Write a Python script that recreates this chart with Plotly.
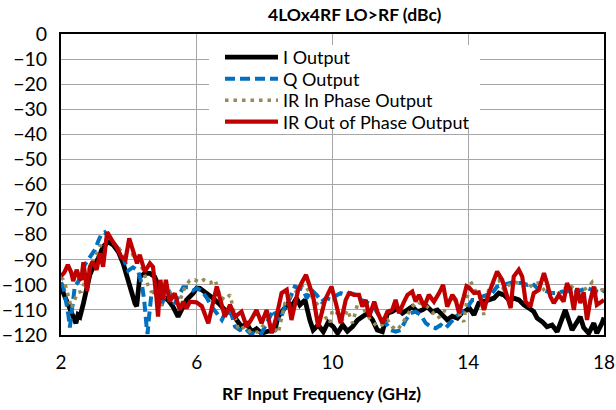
import plotly.graph_objects as go

# ---- data ----
i_freq = [2.0, 2.07, 2.15, 2.26, 2.35, 2.44, 2.5, 2.56, 2.66, 2.76, 2.85, 2.95, 3.1, 3.24, 3.39, 3.54, 3.69, 3.83, 3.98, 4.08, 4.18, 4.23, 4.27, 4.32, 4.47, 4.62, 4.76, 4.86, 5.0, 5.15, 5.3, 5.45, 5.55, 5.7, 5.89, 6.0, 6.09, 6.3, 6.45, 6.64, 6.83, 7.03, 7.18, 7.32, 7.47, 7.62, 7.76, 7.91, 8.1, 8.3, 8.4, 8.55, 8.7, 8.8, 8.94, 9.04, 9.19, 9.33, 9.43, 9.58, 9.73, 9.87, 10.02, 10.15, 10.3, 10.44, 10.59, 10.74, 10.88, 11.03, 11.18, 11.32, 11.47, 11.62, 11.76, 11.91, 12.06, 12.21, 12.35, 12.5, 12.65, 12.79, 12.94, 13.09, 13.24, 13.38, 13.53, 13.68, 13.82, 13.97, 14.02, 14.17, 14.31, 14.46, 14.61, 14.76, 14.9, 15.05, 15.2, 15.34, 15.49, 15.64, 15.79, 15.93, 16.03, 16.18, 16.32, 16.47, 16.62, 16.77, 16.86, 16.96, 17.06, 17.21, 17.3, 17.4, 17.55, 17.7, 17.79, 17.94, 18.0]
i_out = [-101, -103.4, -106, -108.7, -113, -115.3, -112, -112.7, -107.4, -100.8, -96, -92.8, -89.4, -84.8, -82.8, -84.1, -86.8, -91.4, -98.8, -102.7, -107.4, -108.5, -104, -96.8, -95.4, -95.4, -96.8, -100, -104.7, -106, -108.7, -112.7, -110, -106, -103.4, -101.3, -101.4, -103.3, -105, -107.3, -110, -111.3, -114, -116.7, -115.5, -118.7, -117.5, -119.3, -118.5, -118, -112.7, -110, -107.3, -108.5, -105.3, -108, -106, -114, -118, -116, -118.7, -115, -116.7, -119.3, -116, -118.5, -116.7, -114, -112.5, -111.3, -114, -118, -118.7, -111.3, -110.7, -109.3, -111.3, -110, -108.7, -110.7, -110, -108.7, -110.7, -110, -112, -114, -112.5, -113.3, -111, -110, -109, -112, -107.3, -106.7, -106, -105.3, -103.3, -104, -106, -105.3, -106, -108, -109.3, -110.7, -113.3, -114.7, -116.7, -116, -118.7, -113.3, -110, -114, -118, -114.7, -112.7, -117, -119.3, -115.3, -119.3, -115.3, -113]

q_freq = [2.0, 2.07, 2.12, 2.18, 2.22, 2.26, 2.32, 2.41, 2.5, 2.6, 2.7, 2.8, 2.9, 3.0, 3.1, 3.2, 3.29, 3.39, 3.49, 3.59, 3.69, 3.83, 3.98, 4.12, 4.27, 4.39, 4.45, 4.52, 4.55, 4.6, 4.67, 4.77, 4.86, 4.96, 5.06, 5.2, 5.35, 5.5, 5.6, 5.75, 5.89, 6.0, 6.15, 6.3, 6.44, 6.59, 6.74, 6.88, 7.03, 7.13, 7.27, 7.42, 7.57, 7.72, 7.91, 8.11, 8.26, 8.35, 8.45, 8.6, 8.75, 8.89, 8.99, 9.14, 9.24, 9.38, 9.53, 9.68, 9.82, 9.97, 10.05, 10.24, 10.39, 10.54, 10.69, 10.83, 10.98, 11.13, 11.27, 11.42, 11.57, 11.72, 11.86, 12.01, 12.16, 12.3, 12.45, 12.6, 12.75, 12.89, 13.04, 13.19, 13.33, 13.48, 13.63, 13.77, 13.92, 14.0, 14.12, 14.26, 14.41, 14.56, 14.71, 14.85, 15.0, 15.15, 15.3, 15.44, 15.59, 15.74, 15.88, 16.03, 16.18, 16.32, 16.47, 16.62, 16.77, 16.91, 17.06, 17.21, 17.35, 17.5, 17.65, 17.79, 17.94, 18.0]
q_out = [-99, -101, -104.3, -108, -112.3, -117, -110, -100.3, -99, -95, -92, -90, -88, -86, -82.5, -79.5, -79, -81, -82.3, -84, -85.6, -89, -94.3, -93, -94.3, -100.3, -106, -116.3, -119.6, -112, -103, -103, -104.3, -108.3, -104.3, -103, -107.6, -103.6, -101, -101, -102.3, -101.3, -102.5, -105.3, -108.7, -111.3, -114, -110, -112, -116.7, -118, -117.3, -119.3, -119.3, -119.3, -114, -110, -112.7, -114, -108.7, -105.3, -100.7, -101.3, -102, -105.3, -102, -104, -106.7, -105.3, -106, -104.7, -103.3, -104, -103.3, -104, -106, -106.7, -108, -110, -113.3, -115.3, -118, -118.7, -118, -114, -111.3, -110.7, -112, -115.3, -116.7, -117.3, -116, -117.3, -114.7, -112.7, -111.3, -110, -108.5, -106, -106, -104.7, -104, -103.3, -100.7, -100, -99.3, -99, -99.3, -99.3, -100, -99.3, -101.3, -102, -102.7, -103.3, -103.3, -102.7, -102.7, -102, -102.7, -102, -101.3, -102, -102.7, -103.3, -102]

irin_freq = [2.0, 2.07, 2.15, 2.22, 2.31, 2.4, 2.5, 2.6, 2.7, 2.8, 2.9, 3.05, 3.2, 3.34, 3.49, 3.64, 3.78, 3.93, 4.1, 4.27, 4.42, 4.57, 4.67, 4.76, 4.86, 4.96, 5.06, 5.2, 5.35, 5.5, 5.65, 5.79, 5.94, 6.09, 6.2, 6.39, 6.54, 6.69, 6.83, 6.98, 7.13, 7.23, 7.42, 7.62, 7.81, 8.01, 8.2, 8.4, 8.6, 8.75, 8.89, 9.04, 9.19, 9.33, 9.48, 9.63, 9.78, 9.92, 10.0, 10.15, 10.29, 10.44, 10.59, 10.73, 10.83, 10.98, 11.13, 11.32, 11.47, 11.62, 11.76, 11.91, 12.06, 12.21, 12.35, 12.5, 12.65, 12.79, 12.94, 13.09, 13.24, 13.38, 13.53, 13.68, 13.77, 13.87, 13.97, 14.07, 14.22, 14.36, 14.46, 14.61, 14.76, 14.9, 15.05, 15.2, 15.34, 15.49, 15.64, 15.79, 15.93, 16.08, 16.23, 16.37, 16.52, 16.67, 16.81, 16.96, 17.11, 17.26, 17.4, 17.55, 17.65, 17.79, 17.94, 18.0]
irin_out = [-97, -98, -101, -104.7, -109.4, -106, -103, -102.7, -99, -95, -91.4, -87.4, -83.4, -82.1, -83, -84.1, -86.8, -89, -88, -89.6, -94.3, -100.3, -103, -101, -104.3, -108.3, -104, -103, -104.5, -106.3, -101, -98.3, -98, -99, -98, -99.3, -98, -104.7, -106, -104, -112.7, -118, -116.7, -119.3, -118.7, -115.3, -116, -119.3, -107.3, -104.7, -103.3, -100.7, -100, -103.3, -106.7, -108.7, -112.7, -115.3, -110, -111.3, -114, -110, -115.3, -108, -106.7, -111.3, -114, -116.7, -116, -114, -116.7, -118, -115.3, -112, -108.7, -106.7, -108, -108.7, -110.7, -113.3, -112, -108, -105.3, -107.3, -113, -114.7, -105, -98.7, -102.7, -104.7, -112, -101.3, -99.3, -98, -102, -100, -98.7, -99.3, -100.7, -101.3, -99.3, -99.3, -102, -103.3, -104, -103.3, -102, -100, -101.3, -103.3, -102, -100.7, -99, -102.7, -102, -102]

irout_freq = [2.0, 2.1, 2.2, 2.3, 2.36, 2.46, 2.55, 2.6, 2.66, 2.72, 2.77, 2.85, 2.93, 3.05, 3.15, 3.24, 3.36, 3.49, 3.64, 3.78, 3.9, 4.01, 4.13, 4.24, 4.32, 4.47, 4.62, 4.71, 4.81, 4.86, 4.93, 5.0, 5.09, 5.2, 5.35, 5.5, 5.6, 5.7, 5.8, 5.99, 6.15, 6.34, 6.59, 6.83, 6.98, 7.13, 7.32, 7.47, 7.6, 7.76, 7.91, 8.06, 8.21, 8.35, 8.5, 8.65, 8.79, 8.99, 9.1, 9.22, 9.43, 9.58, 9.78, 9.92, 9.97, 10.1, 10.24, 10.39, 10.49, 10.63, 10.78, 10.88, 10.98, 11.08, 11.23, 11.32, 11.47, 11.62, 11.76, 11.86, 11.96, 12.11, 12.21, 12.35, 12.45, 12.55, 12.7, 12.84, 12.99, 13.14, 13.26, 13.38, 13.53, 13.63, 13.73, 13.87, 13.95, 14.02, 14.17, 14.31, 14.46, 14.61, 14.76, 14.85, 15.0, 15.15, 15.25, 15.34, 15.49, 15.59, 15.69, 15.83, 15.93, 16.08, 16.23, 16.32, 16.42, 16.52, 16.67, 16.81, 16.91, 17.01, 17.11, 17.21, 17.3, 17.4, 17.5, 17.6, 17.7, 17.79, 17.94, 18.0]
irout_out = [-96.5, -95, -92, -95, -98.5, -94, -97.5, -98, -91, -97, -102.5, -92.8, -90.8, -94, -87.4, -92.8, -79, -82, -85, -89, -90, -81.5, -87.4, -91.4, -88, -94.8, -91.4, -92.8, -104.7, -112.7, -98, -106, -98, -106.7, -103.4, -110, -106.7, -109.4, -106.7, -107, -108.5, -115.3, -100.7, -112.7, -108, -112.7, -110.7, -116.7, -114, -110, -115.3, -110, -119.3, -112.7, -103.3, -102, -114, -102, -99, -96, -104.7, -116.7, -106, -101.3, -100.7, -107.3, -115.3, -106, -103.3, -104, -104, -108.7, -106, -112.7, -106.7, -110.7, -115.3, -110.7, -110, -106, -111.3, -106.7, -104, -102.7, -106.7, -104, -108.7, -104, -106.7, -103.3, -100, -108.7, -104, -106, -111.3, -104.7, -100.5, -101, -103.3, -103, -110, -103.3, -98, -94.7, -98, -105.3, -109.3, -96.7, -94, -96.7, -106.7, -108.7, -103.3, -102, -95.3, -99.3, -104.7, -107.3, -104, -106.7, -99.3, -102, -110, -101.3, -107.3, -103, -114, -106, -100.7, -108, -106.7, -106]

series_names = ["I Output", "Q Output", "IR In Phase Output", "IR Out of Phase Output"]
x_ticks = [2, 6, 10, 14, 18]
title_text = "4LOx4RF LO>RF (dBc)"
x_title = "RF Input Frequency (GHz)"

FONT = "Lato, Carlito, Calibri, sans-serif"
ML, MR, MT, MB = 61, 12, 34, 75
W, H = 616, 410
PW, PH = W - ML - MR, H - MT - MB


def px_x(px):
    return (px - ML) / PW


def px_y(py):
    return (H - MB - py) / PH


fig = go.Figure()
styles = [
    dict(color="#000000", width=4.8),
    dict(color="#0070C0", width=4, dash="10px,5px"),
    dict(color="#948A54", width=3.5, dash="3.5px,5px"),
    dict(color="#C00000", width=4.2),
]
xs = [i_freq, q_freq, irin_freq, irout_freq]
ys = [i_out, q_out, irin_out, irout_out]
legend_ids = ["legend", "legend2", "legend3", "legend4"]
for k in range(4):
    fig.add_trace(go.Scatter(x=xs[k], y=ys[k], mode="lines", name=series_names[k],
                             line=styles[k], legend=legend_ids[k]))

# item centres in the reference at y = 57, 79, 100, 122 px
leg_centres = [57.5, 79, 100.5, 122]
leg_common = dict(xanchor="left", yanchor="middle", bgcolor="rgba(0,0,0,0)",
                  borderwidth=0, font=dict(size=18, family=FONT), itemwidth=53)
legend_layout = {}
for lid, cy in zip(legend_ids, leg_centres):
    legend_layout[lid] = dict(x=px_x(220), y=px_y(cy), **leg_common)

fig.update_layout(
    width=W, height=H,
    margin=dict(l=ML, r=MR, t=MT, b=MB, autoexpand=False),
    paper_bgcolor="white", plot_bgcolor="white",
    font=dict(family=FONT, color="#000000", size=17),
    showlegend=True,
    shapes=[dict(type="rect", xref="paper", yref="paper", layer="above",
                 x0=px_x(209), x1=px_x(480), y0=px_y(128), y1=px_y(45),
                 fillcolor="white", line=dict(width=0))],
    annotations=[
        dict(text="<b>" + title_text + "</b>", xref="paper", yref="paper",
             x=px_x(355), y=px_y(15), xanchor="center", yanchor="middle", showarrow=False,
             font=dict(size=17.5, family=FONT)),
        dict(text="<b>" + x_title + "</b>", xref="paper", yref="paper",
             x=px_x(321), y=px_y(393), xanchor="center", yanchor="middle", showarrow=False,
             font=dict(size=17.5, family=FONT)),
    ],
    **legend_layout,
)
fig.update_xaxes(range=[2, 18], tickvals=x_ticks, ticktext=[str(t) for t in x_ticks],
                 showgrid=True, gridcolor="#A6A6A6", gridwidth=1,
                 showline=True, linecolor="black", linewidth=2, mirror=True,
                 zeroline=False, ticks="", tickfont=dict(size=19, family=FONT),
                 ticklabelstandoff=9, automargin=False)
fig.update_yaxes(range=[-120, 0], dtick=10, tick0=0,
                 showgrid=True, gridcolor="#A6A6A6", gridwidth=1,
                 showline=True, linecolor="black", linewidth=2, mirror=True,
                 zeroline=False, ticks="", tickfont=dict(size=19.5, family=FONT),
                 ticklabelstandoff=8, automargin=False)

fig.write_html("out.html", config={"displayModeBar": False},
               post_script="document.body.style.margin='0';document.body.style.padding='0';")
